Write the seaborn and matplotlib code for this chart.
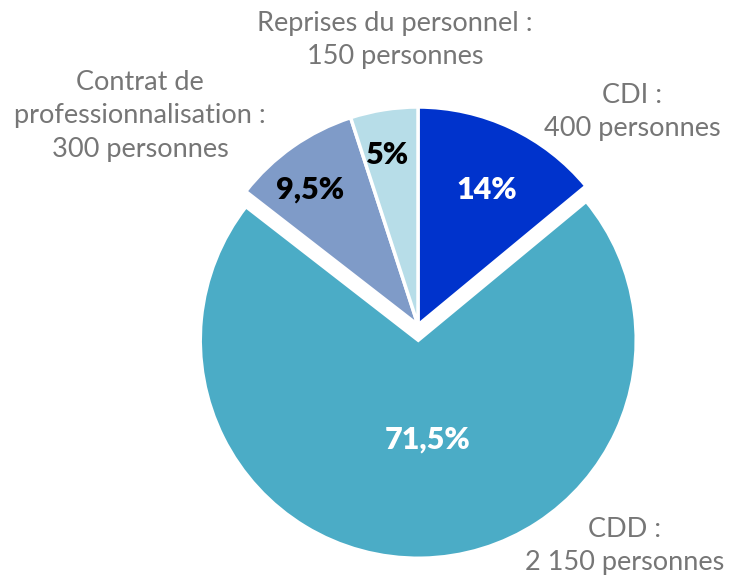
import numpy as np
import matplotlib
matplotlib.use("Agg")
import matplotlib.pyplot as plt
import seaborn as sns

# Data
categories = ["CDI", "CDD", "Contrat de professionnalisation", "Reprises du personnel"]
shares = [14, 71.5, 9.5, 5]
pct_labels = ["14%", "71,5%", "9,5%", "5%"]
people = ["400 personnes", "2 150 personnes", "300 personnes", "150 personnes"]
colors = ["#0033CC", "#4BACC6", "#7F9BC8", "#B7DDE8"]
pct_colors = ["white", "white", "black", "black"]

sns.set_theme(style="white")
plt.rcParams['font.family'] = ['Lato', 'DejaVu Sans']

W, H = 730, 583
R = 218.0  # radius in pixels
cx, cy = 418, 325  # pie centre in pixels

fig = plt.figure(figsize=(W / 100, H / 100), dpi=100)
ax = fig.add_axes([0, 0, 1, 1])

wedges, texts = ax.pie(
    shares,
    colors=colors,
    startangle=90,
    counterclock=False,
    explode=[0, 0.07, 0, 0],
    wedgeprops=dict(edgecolor="white", linewidth=2.5),
)

ax.set_xlim(-cx / R, (W - cx) / R)
ax.set_ylim(-(H - cy) / R, cy / R)
ax.set_aspect("equal")
ax.axis("off")

# percentage labels inside the slices (pixel positions -> axes fraction)
pct_pos = [(487, 190), (428, 440), (310, 190), (388, 155)]
for (px, py), lab, c in zip(pct_pos, pct_labels, pct_colors):
    ax.text(px / W, 1 - py / H, lab, transform=ax.transAxes, ha="center", va="center",
            fontsize=22, fontweight="heavy", color=c)

# outer category labels
grey = "#767676"
outer = [
    ((632, 112), "CDI :\n" + people[0]),
    ((625, 546), "CDD :\n" + people[1]),
    ((140, 116), "Contrat de\nprofessionnalisation :\n" + people[2]),
    ((395, 40), "Reprises du personnel :\n" + people[3]),
]
for (px, py), lab in outer:
    ax.text(px / W, 1 - py / H, lab, transform=ax.transAxes, ha="center", va="center",
            fontsize=19.5, color=grey, linespacing=1.4, multialignment="center")

fig.savefig("out.png", dpi=100)
